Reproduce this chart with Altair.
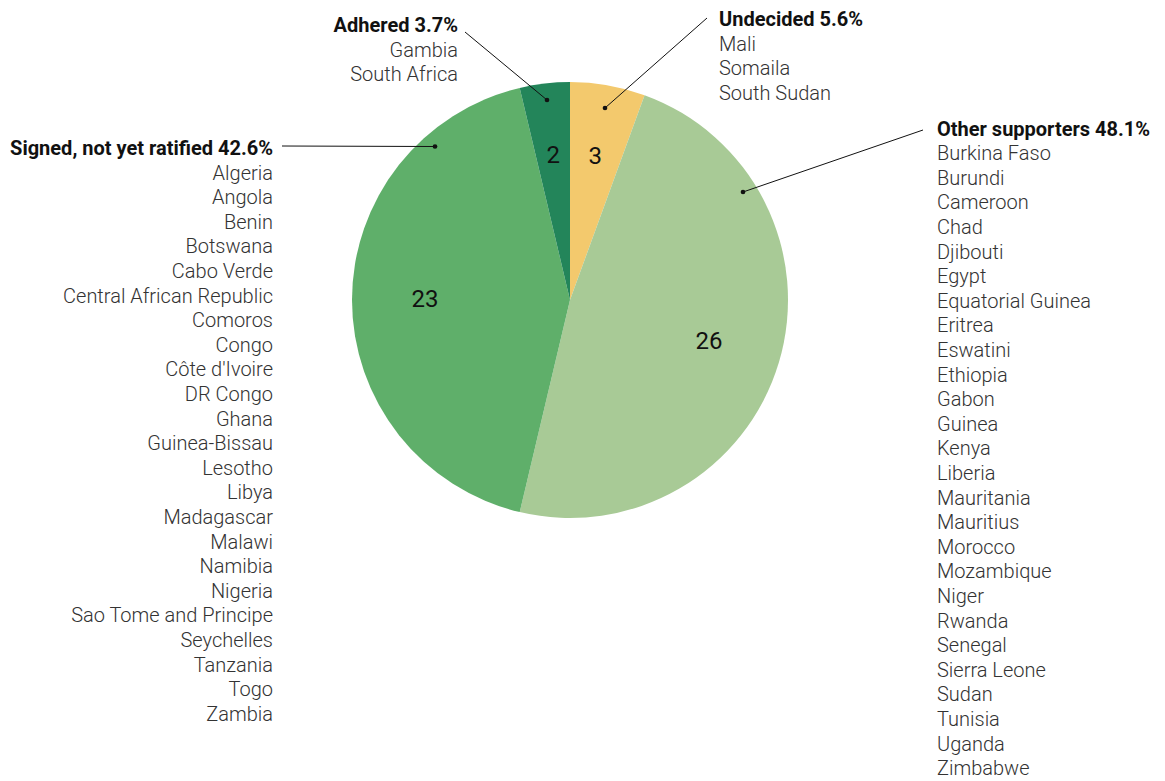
import altair as alt
import pandas as pd

# ---- data ----
groups = ["Undecided", "Other supporters", "Signed, not yet ratified", "Adhered"]
counts = [3, 26, 23, 2]
percents = ["5.6%", "48.1%", "42.6%", "3.7%"]
colors = ["#F3C96D", "#A8CA96", "#5FAF6A", "#23855A"]

undecided = ["Mali", "Somaila", "South Sudan"]
other_supporters = ["Burkina Faso", "Burundi", "Cameroon", "Chad", "Djibouti", "Egypt",
                    "Equatorial Guinea", "Eritrea", "Eswatini", "Ethiopia", "Gabon", "Guinea",
                    "Kenya", "Liberia", "Mauritania", "Mauritius", "Morocco", "Mozambique",
                    "Niger", "Rwanda", "Senegal", "Sierra Leone", "Sudan", "Tunisia",
                    "Uganda", "Zimbabwe"]
signed = ["Algeria", "Angola", "Benin", "Botswana", "Cabo Verde", "Central African Republic",
          "Comoros", "Congo", "Côte d'Ivoire", "DR Congo", "Ghana", "Guinea-Bissau", "Lesotho",
          "Libya", "Madagascar", "Malawi", "Namibia", "Nigeria", "Sao Tome and Principe",
          "Seychelles", "Tanzania", "Togo", "Zambia"]
adhered = ["Gambia", "South Africa"]
members = [undecided, other_supporters, signed, adhered]

# ---- layout (chart pixel coords; page = chart + 8) ----
W, H = 1149, 772
CX, CY, R = 562, 292, 218
LH = 24.6
FONT = "Roboto"
LIGHT_FONT = "'Roboto Light', Roboto"
# label block anchor: (x, header baseline y, align)
label_pos = {
    "Undecided": (711, 18, "left"),
    "Other supporters": (929, 127.5, "left"),
    "Signed, not yet ratified": (265, 147, "right"),
    "Adhered": (450, 24, "right"),
}
# leader lines: (text-side x, y) -> (dot x, y)
leaders = {
    "Undecided": (699, 10, 597, 100),
    "Other supporters": (915, 122, 735, 184),
    "Signed, not yet ratified": (274, 138, 427, 138.5),
    "Adhered": (457, 24, 539, 92),
}

pie_df = pd.DataFrame({"group": groups, "count": counts, "order": list(range(len(groups)))})
color_scale = alt.Scale(domain=groups, range=colors)

base = alt.Chart(pie_df).encode(
    theta=alt.Theta("count:Q", stack=True),
    order=alt.Order("order:Q"),
)
pie = base.mark_arc(outerRadius=R, strokeWidth=0).encode(
    color=alt.Color("group:N", scale=color_scale, legend=None),
    x=alt.value(CX), y=alt.value(CY),
)
nums = base.mark_text(radius=145, fontSize=24, font=FONT, fontWeight="normal", color="#111111").encode(
    text="count:Q", x=alt.value(CX), y=alt.value(CY),
)

# leader lines and dots
lead_rows = []
for g in groups:
    x1, y1, x2, y2 = leaders[g]
    lead_rows.append({"group": g, "x": x1, "y": y1, "x2": x2, "y2": y2})
lead_df = pd.DataFrame(lead_rows)
rules = alt.Chart(lead_df).mark_rule(color="#111111", strokeWidth=1).encode(
    x=alt.X("x:Q", scale=None, axis=None), y=alt.Y("y:Q", scale=None, axis=None),
    x2="x2:Q", y2="y2:Q",
)
dots = alt.Chart(lead_df).mark_circle(color="#111111", opacity=1, size=22).encode(
    x=alt.X("x2:Q", scale=None, axis=None), y=alt.Y("y2:Q", scale=None, axis=None),
)

# text labels
head_rows, item_rows = [], []
for g, p, mem in zip(groups, percents, members):
    x, y0, al = label_pos[g]
    head_rows.append({"text": f"{g} {p}", "x": x, "y": y0, "align": al})
    for i, m in enumerate(mem):
        item_rows.append({"text": m, "x": x, "y": y0 + (i + 1) * LH, "align": al})
head_df = pd.DataFrame(head_rows)
item_df = pd.DataFrame(item_rows)

def text_layer(df, align, bold):
    sub = df[df["align"] == align]
    return alt.Chart(sub).mark_text(
        align=align, baseline="alphabetic",
        font=FONT if bold else LIGHT_FONT, fontSize=20,
        fontWeight="bold" if bold else 300,
        color="#111111" if bold else "#333333",
    ).encode(
        x=alt.X("x:Q", scale=None, axis=None), y=alt.Y("y:Q", scale=None, axis=None),
        text="text:N",
    )

texts = [
    text_layer(head_df, "left", True),
    text_layer(head_df, "right", True),
    text_layer(item_df, "left", False),
    text_layer(item_df, "right", False),
]

chart = alt.layer(pie, nums, rules, dots, *texts).properties(
    width=W, height=H, padding=0, background="white",
    autosize=alt.AutoSizeParams(type="none"),
).configure_view(strokeWidth=0, stroke="transparent")

chart.save("out.html", embed_options={"renderer": "svg", "actions": False})
